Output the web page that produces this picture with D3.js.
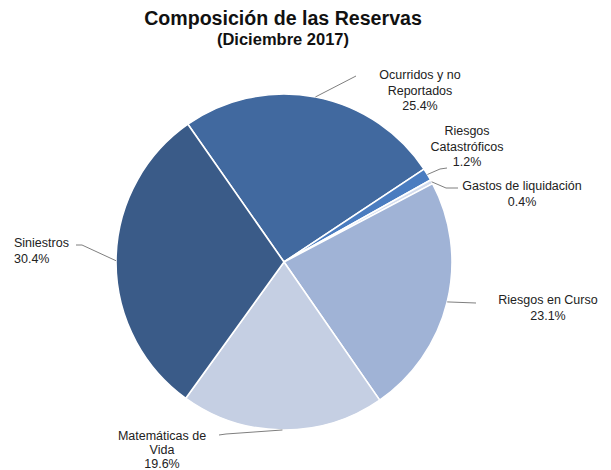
<!DOCTYPE html>
<html><head><meta charset="utf-8">
<script src="https://cdn.jsdelivr.net/npm/d3@7"></script>
<style>body{margin:0;background:#fff;} text{font-family:"Liberation Sans",Arial,sans-serif;}</style>
</head><body>
<svg id="c" width="611" height="470"></svg>
<script>
const categories = ["Ocurridos y no Reportados","Riesgos Catastróficos","Gastos de liquidación","Riesgos en Curso","Matemáticas de Vida","Siniestros"];
const values = [25.4, 1.2, 0.4, 23.1, 19.6, 30.4];
const valueLabels = ["25.4%","1.2%","0.4%","23.1%","19.6%","30.4%"];
const labelLines = [["Ocurridos y no","Reportados","25.4%"],["Riesgos","Catastróficos","1.2%"],["Gastos de liquidación","0.4%"],["Riesgos en Curso","23.1%"],["Matemáticas de","Vida","19.6%"],["Siniestros","30.4%"]];
const colors = ["#41699f","#4a7cc0","#d3dcee","#a0b3d6","#c5cfe3","#3a5b88"];

const svg = d3.select("#c");
const cx = 284, cy = 262, R = 168;
svg.append("text").attr("x",283).attr("y",25).attr("text-anchor","middle")
  .attr("font-size",19.6).attr("font-weight","bold").attr("fill","#111").text("Composición de las Reservas");
svg.append("text").attr("x",283).attr("y",45).attr("text-anchor","middle")
  .attr("font-size",16.5).attr("font-weight","bold").attr("fill","#111").text("(Diciembre 2017)");

const pie = d3.pie().sort(null).value(d=>d).startAngle(-34.9*Math.PI/180).endAngle(-34.9*Math.PI/180+2*Math.PI);
const arcs = pie(values);
const arc = d3.arc().innerRadius(0).outerRadius(R);
const g = svg.append("g").attr("transform",`translate(${cx},${cy})`);
g.selectAll("path").data(arcs).join("path").attr("d",arc)
  .attr("fill",(d,i)=>colors[i]).attr("stroke","#fff").attr("stroke-width",1.6).attr("stroke-linejoin","round");

// label layout
const labelPos = [
  {x:420,y:79,lh:15.5,anchor:"middle",line:[[356,76]]},
  {x:467,y:135,lh:15.5,anchor:"middle",line:[[440,169],[447,168]]},
  {x:522,y:190,lh:15.5,anchor:"middle",line:[[446,188],[458,188]]},
  {x:548,y:304,lh:15.5,anchor:"middle",line:[[476,303]]},
  {x:162,y:440,lh:14,anchor:"middle",line:[[226,434],[219,435]]},
  {x:14,y:247,lh:15.5,anchor:"start",line:[[82,245],[76,245]]}
];
arcs.forEach((d,i)=>{
  const a = (d.startAngle+d.endAngle)/2;
  const p0 = [cx+R*Math.sin(a), cy-R*Math.cos(a)];
  const pts = [p0].concat(labelPos[i].line);
  svg.append("path").attr("d",d3.line()(pts)).attr("fill","none").attr("stroke","#7f7f7f").attr("stroke-width",1);
  const t = svg.append("text").attr("font-size",12.5).attr("fill","#222").attr("text-anchor",labelPos[i].anchor);
  labelLines[i].forEach((s,k)=>{
    t.append("tspan").attr("x",labelPos[i].x).attr("y",labelPos[i].y+k*labelPos[i].lh).text(s);
  });
});
</script>
</body></html>
